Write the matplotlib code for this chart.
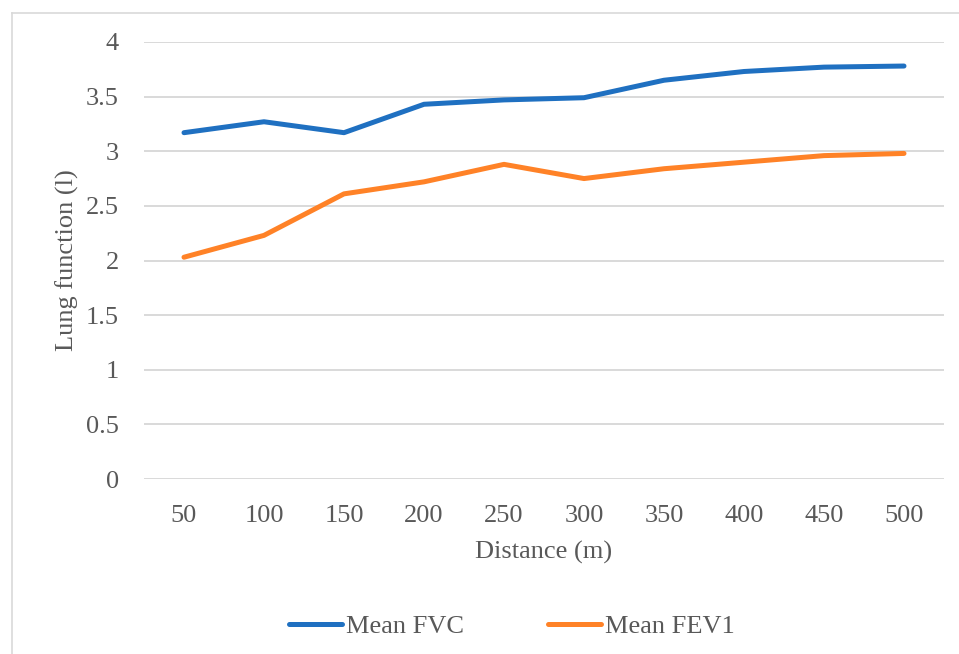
import matplotlib
matplotlib.use("Agg")
import matplotlib.pyplot as plt
from matplotlib.lines import Line2D

distances = ["50", "100", "150", "200", "250", "300", "350", "400", "450", "500"]
mean_fvc = [3.17, 3.27, 3.17, 3.43, 3.47, 3.49, 3.65, 3.73, 3.77, 3.78]
mean_fev1 = [2.03, 2.23, 2.61, 2.72, 2.88, 2.75, 2.84, 2.90, 2.96, 2.98]
yticks = [0, 0.5, 1, 1.5, 2, 2.5, 3, 3.5, 4]
ytick_labels = ["0", "0.5", "1", "1.5", "2", "2.5", "3", "3.5", "4"]

plt.rcParams['font.family'] = ['Liberation Serif', 'DejaVu Serif']
txt = '#595959'
fs = 19

W, H = 959, 654
fig = plt.figure(figsize=(W/100, H/100), dpi=100)
ax = fig.add_axes([144/W, 1-479/H, (944-144)/W, (479-42)/H])

x = list(range(len(distances)))
ax.plot(x, mean_fvc, color='#1F70C1', lw=3.6, solid_capstyle='round', label='Mean FVC')
ax.plot(x, mean_fev1, color='#FF8227', lw=3.6, solid_capstyle='round', label='Mean FEV1')

ax.set_xlim(-0.5, len(distances)-0.5)
ax.set_ylim(0, 4)
ax.set_xticks(x)
ax.set_xticklabels(distances)
ax.set_yticks(yticks)
ax.set_yticklabels(ytick_labels)
ax.tick_params(axis='both', length=0, labelsize=fs, colors=txt)
ax.tick_params(axis='y', pad=18)
ax.tick_params(axis='x', pad=19)
ax.grid(axis='y', color='#d9d9d9', lw=1.4)
ax.set_axisbelow(True)
for s in ax.spines.values():
    s.set_visible(False)

ax.set_xlabel('Distance (m)', fontsize=fs, color=txt, labelpad=10)
ax.set_ylabel('Lung function (l)', fontsize=fs, color=txt, labelpad=5)

leg = fig.legend(loc='center', bbox_to_anchor=(512/W, 1-626/H), ncol=2, frameon=False,
                 fontsize=fs, handlelength=2.0, handletextpad=0.15, columnspacing=3.2)
for t in leg.get_texts():
    t.set_color(txt)

# outer frame
fig.add_artist(Line2D([12/W, 12/W], [0, 1-13/H], transform=fig.transFigure, color='#d9d9d9', lw=1.2))
fig.add_artist(Line2D([12/W, 1], [1-13/H, 1-13/H], transform=fig.transFigure, color='#d9d9d9', lw=1.2))

fig.savefig('out.png', dpi=100)
